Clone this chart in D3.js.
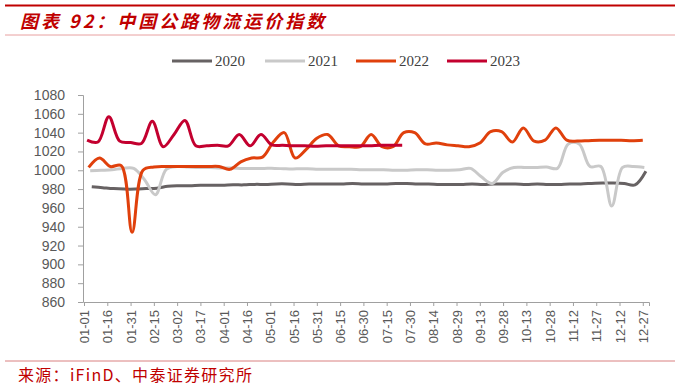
<!DOCTYPE html>
<html>
<head>
<meta charset="utf-8">
<script src="https://cdn.jsdelivr.net/npm/d3@7"></script>
<style>
  body { margin: 0; background: #fff; }
  svg { display: block; }
</style>
</head>
<body>
<div class="plot"></div>
<script>
// weekly index values, one array per year
let start_dates = {"2020": "01-06", "2021": "01-05", "2022": "01-04", "2023": "01-03"};

let v2020 = [982.5, 981.5, 980.5, 980, 980, 980.5, 981, 983, 983.5, 983.5, 984, 984, 984, 984.5, 984.5, 985,
  985, 985.5, 985.5, 985, 985.5, 985.5, 985.5, 985.5, 986, 985.5, 985.5, 985.5, 986, 986, 985.5, 985.5,
  985, 985, 985, 985.5, 985, 985.5, 985.5, 985.5, 985, 985.5, 985, 985, 985.5, 985.5, 986, 986.5,
  986.5, 986, 984.5, 999];
let v2021 = [999.5, 1000, 1000.5, 1002, 1002, 990, 974, 1001, 1004, 1003.5, 1003, 1003, 1002.5, 1002.5, 1002, 1002,
  1002, 1002, 1001.5, 1001.5, 1001.5, 1001, 1001, 1001, 1001, 1000.5, 1000.5, 1000.5, 1000, 1000, 1000.5, 1000.5,
  1000, 1000, 1000.5, 1002, 993, 986, 998, 1003, 1003, 1003, 1003.5, 1002, 1028, 1028, 1004, 1004,
  962, 1003, 1004, 1003];
let v2022 = [1003, 1013, 1004, 1005, 934, 1000, 1003.5, 1004, 1004, 1004, 1004, 1004, 1004, 1001, 1009, 1013,
  1014, 1030, 1040, 1013, 1022, 1034, 1038, 1026, 1025, 1025, 1038, 1025, 1025, 1040, 1040, 1028,
  1029, 1027, 1026, 1025, 1029, 1041, 1041, 1030, 1045, 1031, 1032, 1045, 1032, 1031, 1031.5, 1032,
  1032, 1032, 1031.5, 1032];
let v2023 = [1032, 1030, 1057, 1031, 1029.5, 1028.5, 1052, 1025, 1038, 1053, 1026, 1026, 1026.5, 1026, 1038, 1026,
  1038, 1027, 1026.5, 1026, 1026, 1025.5, 1026, 1026, 1026, 1026, 1026, 1026.5, 1026.5, 1026.5];

let years = ["2020", "2021", "2022", "2023"];
let colors = {"2020": "#676263", "2021": "#c9c9c9", "2022": "#e0400c", "2023": "#c3002f"};
let series_values = {"2020": v2020, "2021": v2021, "2022": v2022, "2023": v2023};

let x_ticks = ["01-01", "01-16", "01-31", "02-15", "03-02", "03-17", "04-01", "04-16", "05-01", "05-16",
  "05-31", "06-15", "06-30", "07-15", "07-30", "08-14", "08-29", "09-13", "09-28", "10-13",
  "10-28", "11-12", "11-27", "12-12", "12-27"];
let y_ticks = [860, 880, 900, 920, 940, 960, 980, 1000, 1020, 1040, 1060, 1080];

var width = 679, height = 388;
var parse = d3.timeParse("%m-%d");

var svg = d3.select(".plot")
  .append("svg")
  .attr("width", width)
  .attr("height", height);

// header and footer rules
svg.append("line").attr("x1", 5).attr("x2", 675).attr("y1", 5.5).attr("y2", 5.5)
  .attr("stroke", "#c00000").attr("stroke-width", 2);
svg.append("line").attr("x1", 5).attr("x2", 675).attr("y1", 35).attr("y2", 35)
  .attr("stroke", "#e8a0a0").attr("stroke-width", 1);
svg.append("line").attr("x1", 5).attr("x2", 675).attr("y1", 361).attr("y2", 361)
  .attr("stroke", "#d98080").attr("stroke-width", 1);

svg.append("text")
  .attr("x", 20).attr("y", 28)
  .style("font-family", "'Noto Sans CJK SC', sans-serif")
  .style("font-size", "18px")
  .style("font-weight", "bold")
  .style("font-style", "italic")
  .style("letter-spacing", "3px")
  .style("fill", "#c00000")
  .text("图表 92：中国公路物流运价指数");

svg.append("text")
  .attr("x", 18).attr("y", 381)
  .style("font-family", "'Noto Sans CJK SC', sans-serif")
  .style("font-size", "16px")
  .style("letter-spacing", "1.3px")
  .style("fill", "#c00000")
  .text("来源：iFinD、中泰证券研究所");

// scales
var x = d3.scaleTime()
  .domain([parse("01-01"), parse("12-31")])
  .range([84, 649]);
var y = d3.scaleLinear()
  .domain([860, 1080])
  .range([302, 95]);

// y axis
var y_axis = svg.append("g")
  .attr("transform", "translate(83,0)")
  .call(d3.axisLeft(y).tickValues(y_ticks).tickFormat(d3.format("d")).tickSize(5).tickPadding(13));
y_axis.selectAll("text")
  .style("font-family", "'Liberation Sans', Arial, sans-serif")
  .style("font-size", "14px")
  .style("fill", "#595959");

// x axis
var x_axis = svg.append("g")
  .attr("transform", "translate(0,302)")
  .call(d3.axisBottom(x)
    .tickValues(x_ticks.map(parse))
    .tickFormat(d3.timeFormat("%m-%d"))
    .tickSize(4));
x_axis.selectAll("text")
  .attr("transform", "rotate(-90)")
  .attr("text-anchor", "end")
  .attr("x", -8)
  .attr("y", 0)
  .attr("dy", "0.35em")
  .style("font-family", "'Liberation Sans', Arial, sans-serif")
  .style("font-size", "13px")
  .style("fill", "#595959");

svg.selectAll(".domain, .tick line").attr("stroke", "#a0a0a0");

// lines
var line = d3.line()
  .x(function(d) { return x(d.date); })
  .y(function(d) { return y(d.value); })
  .curve(d3.curveCatmullRom);

years.forEach(function(yr) {
  let start = parse(start_dates[yr]);
  let pts = series_values[yr].map(function(v, i) {
    return {date: d3.timeDay.offset(start, i * 7), value: v};
  });
  svg.append("path")
    .datum(pts)
    .attr("fill", "none")
    .attr("stroke", colors[yr])
    .attr("stroke-width", 3)
    .attr("stroke-linejoin", "round")
    .attr("d", line);
});

// legend
var legend = svg.append("g").attr("class", "legend");
var legend_x = [172, 265, 356, 447];
years.forEach(function(yr, i) {
  legend.append("line")
    .attr("x1", legend_x[i]).attr("x2", legend_x[i] + 40)
    .attr("y1", 61).attr("y2", 61)
    .attr("stroke", colors[yr])
    .attr("stroke-width", 3);
  legend.append("text")
    .attr("x", legend_x[i] + 43)
    .attr("y", 66)
    .style("font-family", "'Liberation Serif', 'Times New Roman', serif")
    .style("font-size", "15px")
    .style("fill", "#404040")
    .text(yr);
});
</script>
</body>
</html>
